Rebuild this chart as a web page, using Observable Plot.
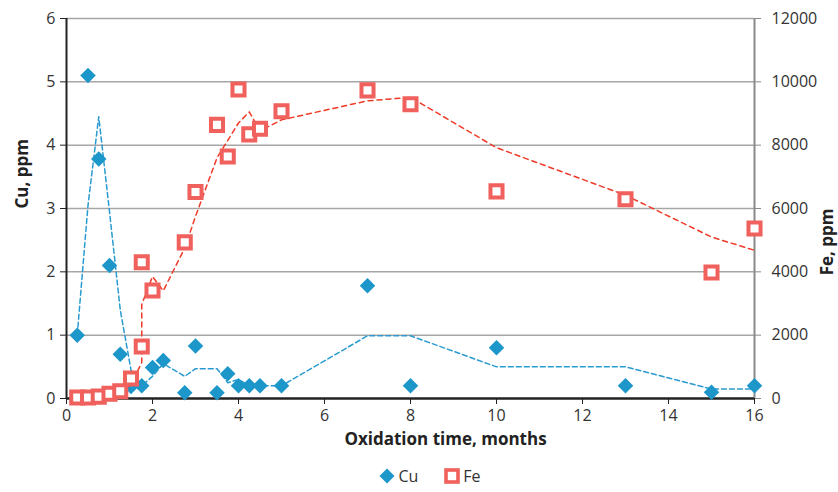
<!DOCTYPE html>
<html>
<head>
<meta charset="utf-8">
<script src="https://cdn.jsdelivr.net/npm/d3@7"></script>
<script src="https://cdn.jsdelivr.net/npm/@observablehq/plot@0.6"></script>
<style>
  body { margin: 0; background: #fff; }
  #legend { display: flex; justify-content: center; align-items: center; height: 32px; padding-left: 22px;
    font-family: 'Open Sans', sans-serif; font-size: 16px; color: #333; }
  #legend span { margin-left: 3px; }
  #legend .gap { width: 26px; }
</style>
</head>
<body>
<div id="chart"></div>
<div id="legend">
  <svg width="16" height="16"><polygon points="8,0.5 15.5,8 8,15.5 0.5,8" fill="#1d96c9"/></svg><span>Cu</span>
  <div class="gap"></div>
  <svg width="16" height="16"><rect x="2" y="2" width="12" height="12" fill="white" stroke="#f0605c" stroke-width="3.6"/></svg><span>Fe</span>
</div>
<script>
// Cu measurements (left axis, ppm)
const cuMonths = [0.25,0.5,0.75,1,1.25,1.5,1.75,2,2.25,2.75,3,3.5,3.75,4,4.25,4.5,5,7,8,10,13,15,16];
const cuPpm    = [1.0,5.1,3.78,2.1,0.7,0.19,0.2,0.49,0.6,0.09,0.83,0.09,0.39,0.2,0.2,0.2,0.2,1.78,0.2,0.8,0.2,0.1,0.2];
// Cu trendline (dashed)
const cuTrendMonths = [0.25,0.5,0.75,1,1.25,1.5,1.75,2,2.25,2.75,3,3.5,3.75,4,4.25,4.5,5,7,8,10,13,15,16];
const cuTrendPpm    = [1.0,3.05,4.45,2.95,1.4,0.45,0.2,0.35,0.55,0.35,0.47,0.47,0.25,0.3,0.2,0.2,0.2,0.99,0.99,0.5,0.5,0.15,0.15];
// Fe measurements (right axis, ppm)
const feMonths = [0.25,0.5,0.75,1,1.25,1.5,1.75,1.75,2,2.75,3,3.5,3.75,4,4.25,4.5,5,7,8,10,13,15,16];
const fePpm    = [30,30,60,150,230,630,1640,4300,3410,4930,6520,8640,7640,9760,8340,8520,9070,9730,9290,6540,6290,3980,5370];
// Fe trendline (dashed)
const feTrendMonths = [0.25,0.5,0.75,1,1.25,1.5,1.75,1.75,2,2.25,2.75,3,3.5,3.75,4,4.25,4.5,5,7,8,10,13,15,16];
const feTrendPpm    = [0,30,50,100,190,430,1140,2970,3850,3400,4750,5750,7600,8150,8700,9050,8450,8800,9400,9510,7920,6420,5100,4680];
// Axis ticks
const xTicks = [0,2,4,6,8,10,12,14,16];
const cuTicks = [0,1,2,3,4,5,6];
const feTicks = [0,2000,4000,6000,8000,10000,12000];
const feMax = 12000, cuMax = 6;
const ratio = feMax / cuMax;

const cu = cuMonths.map((m, i) => ({month: m, ppm: cuPpm[i]}));
const cuTrend = cuTrendMonths.map((m, i) => ({month: m, ppm: cuTrendPpm[i]}));
const fe = feMonths.map((m, i) => ({month: m, ppm: fePpm[i]}));
const feTrend = feTrendMonths.map((m, i) => ({month: m, ppm: feTrendPpm[i]}));

const chart = Plot.plot({
  width: 838,
  height: 460,
  marginTop: 18,
  marginBottom: 62,
  marginLeft: 66,
  marginRight: 84,
  x: {domain: [0, 16]},
  y: {domain: [0, cuMax]},
  style: {fontFamily: "'Open Sans', sans-serif", fontSize: "16px", background: "white", overflow: "visible"},
  marks: [
    Plot.gridY(cuTicks.slice(1), {stroke: "#a6a6a6", strokeOpacity: 1, strokeWidth: 1.5}),
    Plot.axisY(cuTicks, {anchor: "left", tickSize: 6, tickPadding: 5, label: null, tickFormat: d => String(d), stroke: "#222", fill: "#333"}),
    Plot.axisY(feTicks.map(v => v / ratio), {anchor: "right", tickSize: 6, tickPadding: 11, label: null,
      tickFormat: d => String(Math.round(d * ratio)), stroke: "#8a8a8a", fill: "#333"}),
    Plot.axisX(xTicks, {tickSize: 6, tickPadding: 5, label: null, tickFormat: d => String(d), stroke: "#222", fill: "#333"}),
    Plot.ruleX([0], {stroke: "#222", strokeWidth: 2}),
    Plot.ruleX([16], {stroke: "#8a8a8a", strokeWidth: 2}),
    Plot.ruleY([0], {stroke: "#222", strokeWidth: 2.5}),
    Plot.line(cuTrend, {x: "month", y: "ppm", stroke: "#2a9bd0", strokeWidth: 1.5, strokeDasharray: "5,3"}),
    Plot.dot(cu, {x: "month", y: "ppm", symbol: "diamond2", r: 7, fill: "#1d96c9", stroke: "none"}),
    Plot.line(feTrend, {x: "month", y: d => d.ppm / ratio, stroke: "#f03a28", strokeWidth: 1.5, strokeDasharray: "5,4"}),
    Plot.dot(fe, {x: "month", y: d => d.ppm / ratio, symbol: "square", r: 6.8, fill: "white", stroke: "#f0605c", strokeWidth: 4}),
    Plot.text(["Cu, ppm"], {text: d => d, frameAnchor: "left", dx: -44, rotate: -90, fontWeight: "bold", fontSize: 17, fill: "#222"}),
    Plot.text(["Fe, ppm"], {text: d => d, frameAnchor: "right", dx: 73, rotate: -90, fontWeight: "bold", fontSize: 17, fill: "#222"}),
    Plot.text(["Oxidation time, months"], {text: d => d, frameAnchor: "bottom", dx: 35, dy: 46, fontWeight: "bold", fontSize: 17, fill: "#222"})
  ]
});
document.getElementById("chart").appendChild(chart);
</script>
</body>
</html>
